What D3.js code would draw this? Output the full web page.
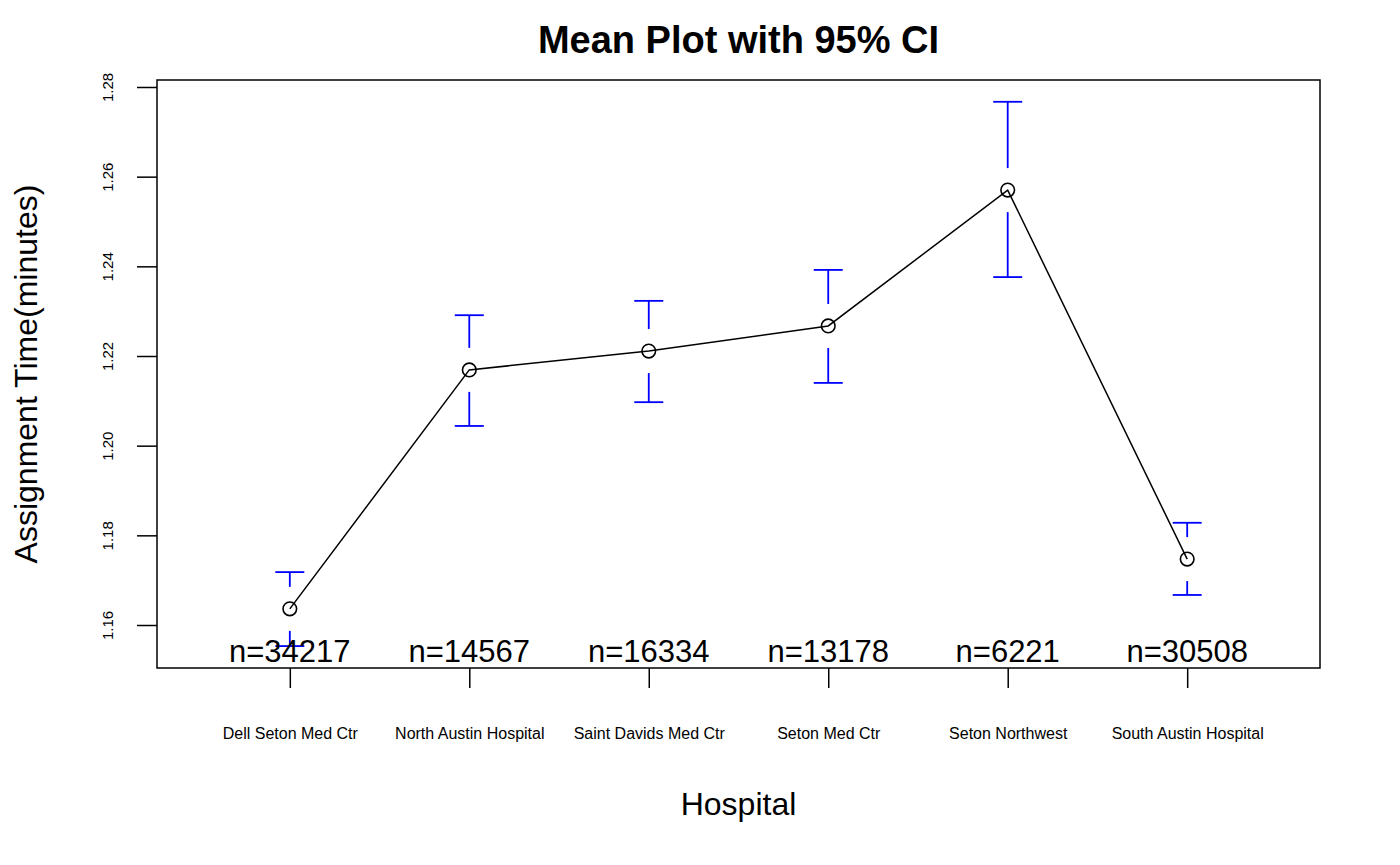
<!DOCTYPE html>
<html>
<head>
    <meta charset="utf-8">
    <title>Mean Plot with 95% CI</title>
    <script src="https://d3js.org/d3.v7.min.js"></script>
    <style>
      body { margin: 0; background: #fff; }
      svg { font-family: "Liberation Sans", Arial, sans-serif; }
      .axis path { display: none; }
      .axis line { stroke: #000; stroke-width: 1.5px; }
    </style>
</head>
<body>
    <script>
      // data
      var hospitals = ["Dell Seton Med Ctr", "North Austin Hospital", "Saint Davids Med Ctr",
                       "Seton Med Ctr", "Seton Northwest", "South Austin Hospital"];
      var means   = [1.1636, 1.2169, 1.2211, 1.2267, 1.2570, 1.1747];
      var ciLower = [1.1553, 1.2044, 1.2097, 1.2140, 1.2376, 1.1667];
      var ciUpper = [1.1718, 1.2291, 1.2323, 1.2392, 1.2767, 1.1828];
      var counts  = [34217, 14567, 16334, 13178, 6221, 30508];
      var yTicks  = [1.16, 1.18, 1.20, 1.22, 1.24, 1.26, 1.28];

      var W = 1400, H = 865;
      var margin = {top: 80, right: 80, bottom: 197, left: 157},
          width = W - margin.left - margin.right,
          height = H - margin.top - margin.bottom;

      var svg = d3.select("body").append("svg")
          .attr("width", W)
          .attr("height", H);

      var g = svg.append("g")
          .attr("transform", "translate(" + margin.left + "," + margin.top + ")");

      // R style: x from 0.26 to 6.74, y padded a little
      var x = d3.scaleLinear().domain([0.26, 6.74]).range([0, width]);
      var y = d3.scaleLinear().domain([1.15041, 1.28156]).range([height, 0]);

      var rows = hospitals.map(function(h, i) {
        return {i: i + 1, name: h, mean: means[i], lo: ciLower[i], hi: ciUpper[i], n: counts[i]};
      });

      // y axis
      var yAxis = g.append("g").attr("class", "axis")
          .call(d3.axisLeft(y).tickValues(yTicks).tickSize(20).tickFormat(d3.format(".2f")));
      yAxis.selectAll("text")
          .attr("x", null).attr("dy", null)
          .attr("transform", "translate(-44,0) rotate(-90)")
          .attr("text-anchor", "middle")
          .attr("font-size", "15px")
          .attr("font-family", "Liberation Sans, Arial, sans-serif")
          .attr("fill", "#000");

      // x axis
      var xAxis = g.append("g").attr("class", "axis")
          .attr("transform", "translate(0," + height + ")")
          .call(d3.axisBottom(x).tickValues(rows.map(function(d) { return d.i; }))
                .tickSize(20).tickFormat(function(d) { return hospitals[d - 1]; }));
      xAxis.selectAll("text")
          .attr("y", 71).attr("dy", null)
          .attr("font-size", "16px")
          .attr("font-family", "Liberation Sans, Arial, sans-serif")
          .attr("fill", "#000");

      // box
      g.append("rect")
          .attr("width", width).attr("height", height)
          .attr("fill", "none").attr("stroke", "#000").attr("stroke-width", 1.5);

      // connecting line
      var line = d3.line()
          .x(function(d) { return x(d.i); })
          .y(function(d) { return y(d.mean); });
      g.append("path").datum(rows)
          .attr("d", line)
          .attr("fill", "none").attr("stroke", "#000").attr("stroke-width", 1.5);

      // error bars, with a gap round the mean
      var gap = 22, cap = 14.5;
      var bars = g.selectAll(".ci").data(rows).enter().append("g").attr("class", "ci")
          .attr("stroke", "#0000ff").attr("stroke-width", 1.8);
      bars.each(function(d) {
        var el = d3.select(this), cx = x(d.i), cy = y(d.mean);
        [y(d.hi), y(d.lo)].forEach(function(ey) {
          el.append("line").attr("x1", cx - cap).attr("x2", cx + cap).attr("y1", ey).attr("y2", ey);
          if (Math.abs(ey - cy) > gap) {
            var end = ey < cy ? cy - gap : cy + gap;
            el.append("line").attr("x1", cx).attr("x2", cx).attr("y1", ey).attr("y2", end);
          }
        });
      });

      // means
      g.selectAll(".pt").data(rows).enter().append("circle")
          .attr("cx", function(d) { return x(d.i); })
          .attr("cy", function(d) { return y(d.mean); })
          .attr("r", 6.8)
          .attr("fill", "none").attr("stroke", "#000").attr("stroke-width", 1.6);

      // n labels
      g.selectAll(".nlab").data(rows).enter().append("text")
          .attr("x", function(d) { return x(d.i); })
          .attr("y", height - 6)
          .attr("text-anchor", "middle")
          .attr("font-size", "31px")
          .text(function(d) { return "n=" + d.n; });

      // titles
      svg.append("text")
          .attr("x", margin.left + width / 2).attr("y", 53)
          .attr("text-anchor", "middle")
          .attr("font-size", "38px").attr("font-weight", "bold")
          .text("Mean Plot with 95% CI");

      svg.append("text")
          .attr("x", margin.left + width / 2).attr("y", 815)
          .attr("text-anchor", "middle")
          .attr("font-size", "32px")
          .text("Hospital");

      svg.append("text")
          .attr("transform", "translate(37," + (margin.top + height / 2) + ") rotate(-90)")
          .attr("text-anchor", "middle")
          .attr("font-size", "32px")
          .text("Assignment Time(minutes)");
    </script>
</body>
</html>
